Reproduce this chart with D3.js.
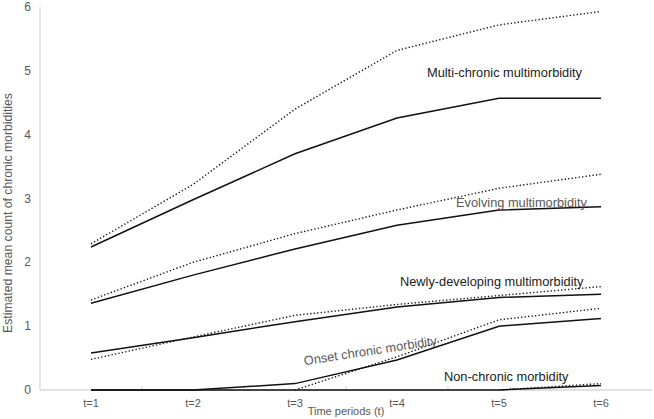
<!DOCTYPE html>
<html>
<head>
<meta charset="utf-8">
<script src="https://d3js.org/d3.v7.min.js"></script>
<style>
body { margin: 0; background: #fff; font-family: "Liberation Sans", Arial, sans-serif; }
.axis-line { stroke: #d9d9d9; stroke-width: 1.3; }
.tick-lbl { fill: #595959; font-size: 12px; }
.x-lbl { fill: #595959; font-size: 11px; }
.title { fill: #595959; font-size: 11px; }
.series-lbl { font-size: 12.8px; }
</style>
</head>
<body>
<svg width="654" height="419"></svg>
<script>
var periods = ["t=1", "t=2", "t=3", "t=4", "t=5", "t=6"];
var yTicks = [0, 1, 2, 3, 4, 5, 6];

// solid and dotted line of each group
var multiSolid    = [2.24, 2.98, 3.70, 4.26, 4.57, 4.57];
var multiDotted   = [2.29, 3.22, 4.40, 5.32, 5.72, 5.93];
var evolvSolid    = [1.36, 1.80, 2.21, 2.58, 2.82, 2.87];
var evolvDotted   = [1.41, 2.00, 2.45, 2.82, 3.16, 3.38];
var newlySolid    = [0.58, 0.82, 1.07, 1.30, 1.45, 1.50];
var newlyDotted   = [0.48, 0.83, 1.17, 1.34, 1.48, 1.62];
var onsetSolid    = [0, 0, 0.10, 0.47, 1.00, 1.12];
var onsetDotted   = [null, null, 0, 0.52, 1.10, 1.28];
var nonSolid      = [0, 0, 0, 0, 0, 0.07];
var nonDotted     = [null, null, null, null, 0, 0.10];

var seriesLabels = ["Multi-chronic multimorbidity", "Evolving multimorbidity",
  "Newly-developing multimorbidity", "Onset chronic morbidity", "Non-chronic morbidity"];

var svg = d3.select("svg");

var x = d3.scaleBand().domain(periods).range([40, 652]);
var y = d3.scaleLinear().domain([0, 6]).range([390, 7]);

// axes
svg.append("line").attr("class", "axis-line")
  .attr("x1", 40).attr("x2", 40).attr("y1", y(6)).attr("y2", y(0));
svg.append("line").attr("class", "axis-line")
  .attr("x1", 40).attr("x2", 652).attr("y1", y(0)).attr("y2", y(0));

// small category ticks between bands
svg.selectAll(".xtick").data(periods.slice(1)).enter().append("line")
  .attr("class", "axis-line")
  .attr("x1", function(d) { return x(d); })
  .attr("x2", function(d) { return x(d); })
  .attr("y1", y(0)).attr("y2", y(0) - 4);

svg.selectAll(".ylbl").data(yTicks).enter().append("text")
  .attr("class", "tick-lbl")
  .attr("x", 31).attr("y", function(d) { return y(d) + 4; })
  .attr("text-anchor", "end")
  .text(function(d) { return d; });

svg.selectAll(".xlbl").data(periods).enter().append("text")
  .attr("class", "x-lbl")
  .attr("x", function(d) { return x(d) + x.bandwidth() / 2; })
  .attr("y", 407)
  .attr("text-anchor", "middle")
  .text(function(d) { return d; });

svg.append("text").attr("class", "title")
  .attr("x", 346).attr("y", 415).attr("text-anchor", "middle")
  .text("Time periods (t)");

svg.append("text").attr("class", "title")
  .style("font-size", "12.2px")
  .attr("transform", "translate(12,213) rotate(-90)")
  .attr("text-anchor", "middle")
  .text("Estimated mean count of chronic morbidities");

// lines
var line = d3.line()
  .defined(function(d) { return d != null; })
  .x(function(d, i) { return x(periods[i]) + x.bandwidth() / 2; })
  .y(function(d) { return y(d); });

var solids = [multiSolid, evolvSolid, newlySolid, onsetSolid, nonSolid];
var dotteds = [multiDotted, evolvDotted, newlyDotted, onsetDotted, nonDotted];

dotteds.forEach(function(s) {
  svg.append("path").attr("d", line(s))
    .attr("fill", "none").attr("stroke", "#111")
    .attr("stroke-width", 1.4).attr("stroke-dasharray", "1.3,2.2");
});
solids.forEach(function(s) {
  svg.append("path").attr("d", line(s))
    .attr("fill", "none").attr("stroke", "#111")
    .attr("stroke-width", 1.5);
});

// series labels
svg.append("text").attr("class", "series-lbl").attr("fill", "#222")
  .attr("x", 427).attr("y", 77).text(seriesLabels[0]);
svg.append("text").attr("class", "series-lbl").attr("fill", "#595959")
  .attr("x", 456).attr("y", 207).text(seriesLabels[1]);
svg.append("text").attr("class", "series-lbl").attr("fill", "#222")
  .attr("x", 400).attr("y", 286).text(seriesLabels[2]);
svg.append("text").attr("class", "series-lbl").attr("fill", "#595959")
  .attr("transform", "translate(371,355) rotate(-8.8)")
  .attr("text-anchor", "middle").text(seriesLabels[3]);
svg.append("text").attr("class", "series-lbl").attr("fill", "#222")
  .attr("x", 444).attr("y", 381).text(seriesLabels[4]);
</script>
</body>
</html>
